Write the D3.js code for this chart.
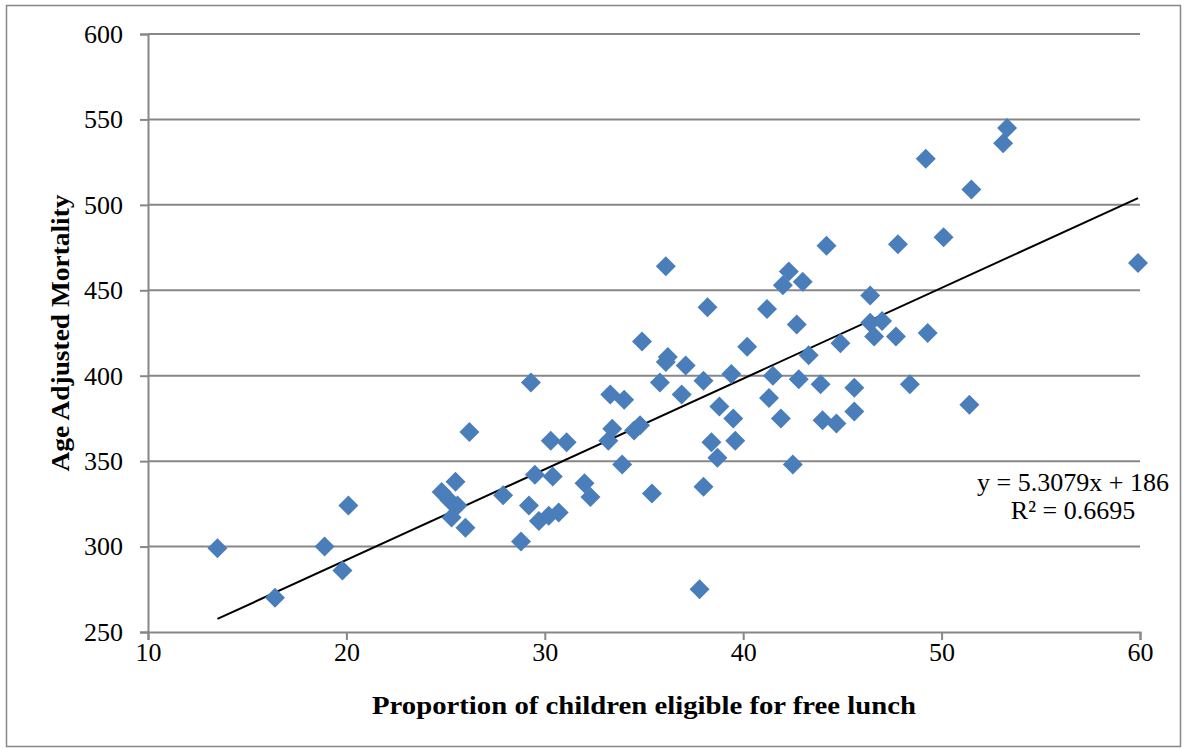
<!DOCTYPE html>
<html>
<head>
<meta charset="utf-8">
<script src="https://cdn.jsdelivr.net/npm/d3@7"></script>
<style>
  body { margin: 0; background: #fff; }
  text { font-family: "Liberation Serif", "Times New Roman", serif; fill: #000; }
</style>
</head>
<body>
<script>
  /***** Data *****/
  var lunchShare = [13.5, 16.4, 18.9, 19.8, 20.1, 24.8, 25.2, 25.5, 25.6, 25.3, 26.0, 26.2,
    27.9, 28.8, 29.2, 29.3, 29.5, 29.7, 30.2, 30.7, 30.4, 30.3, 31.1, 32.0, 32.3,
    33.3, 34.0, 33.4, 33.2, 33.9, 34.5, 34.8, 34.9, 35.4, 35.8, 36.1, 36.2, 36.1,
    37.1, 36.9, 38.0, 38.0, 38.2, 37.8, 38.4, 38.7, 38.8, 39.4, 39.5, 39.6, 40.2,
    41.2, 41.5, 41.3, 41.9, 42.0, 42.3, 43.0, 42.7, 42.5, 42.8, 43.3, 43.9, 44.0,
    44.2, 44.7, 44.9, 45.6, 45.6, 46.4, 46.4, 47.0, 46.6, 47.7, 47.8, 48.4, 49.2,
    49.3, 50.1, 51.4, 51.5, 53.1, 53.3, 59.9];
  var mortality = [299, 270, 300, 286, 324, 332, 327, 338, 324, 317, 311, 367,
    330, 303, 324, 396, 342, 315, 318, 320, 341, 362, 361, 337, 329,
    389, 386, 369, 362, 348, 368, 371, 420, 331, 396, 408, 411, 464,
    406, 389, 335, 397, 440, 275, 361, 352, 382, 401, 375, 362, 417,
    439, 400, 387, 375, 453, 461, 455, 430, 348, 398, 412, 395, 374,
    476, 372, 419, 393, 379, 447, 431, 432, 423, 423, 477, 395, 527,
    425, 481, 383, 509, 536, 545, 466];
  var xTicks = [10, 20, 30, 40, 50, 60];
  var yTicks = [250, 300, 350, 400, 450, 500, 550, 600];
  var slope = 5.3079, intercept = 186;
  var equationLines = ["y = 5.3079x + 186", "R\u00B2 = 0.6695"];

  /***** Configuration *****/
  var width = 1184, height = 749;
  var plot = { left: 148, right: 1140, top: 34, bottom: 632 };
  var gridColor = "#878787";
  var markColor = "#4a7ebb";

  var svg = d3.select("body").append("svg")
      .attr("width", width)
      .attr("height", height);

  svg.append("rect")
      .attr("x", 6.5).attr("y", 5.5)
      .attr("width", 1174).attr("height", 741)
      .attr("fill", "none")
      .attr("stroke", gridColor)
      .attr("stroke-width", 1.5);

  var xScale = d3.scaleLinear().domain([10, 60]).range([plot.left, plot.right]);
  var yScale = d3.scaleLinear().domain([250, 600]).range([plot.bottom, plot.top]);

  /***** Grid *****/
  svg.append("g").selectAll("line")
      .data(yTicks.filter(function (d) { return d > 250; }))
      .join("line")
      .attr("x1", plot.left).attr("x2", plot.right)
      .attr("y1", function (d) { return yScale(d); })
      .attr("y2", function (d) { return yScale(d); })
      .attr("stroke", gridColor)
      .attr("stroke-width", 2);

  /***** Axes *****/
  var yAxis = d3.axisLeft(yScale).tickValues(yTicks).tickSize(8).tickPadding(17);
  var xAxis = d3.axisBottom(xScale).tickValues(xTicks).tickSize(8).tickPadding(3);

  var yAxisGroup = svg.append("g")
      .attr("transform", "translate(" + plot.left + ",0)")
      .call(yAxis);
  var xAxisGroup = svg.append("g")
      .attr("transform", "translate(0," + plot.bottom + ")")
      .call(xAxis);

  [yAxisGroup, xAxisGroup].forEach(function (g) {
    g.select(".domain").attr("stroke", gridColor).attr("stroke-width", 2);
    g.selectAll(".tick line").attr("stroke", gridColor).attr("stroke-width", 2);
    g.selectAll(".tick text")
        .attr("font-family", "Liberation Serif, serif")
        .attr("font-size", 26)
        .attr("fill", "#000");
  });

  /***** Trend line *****/
  var xExtent = d3.extent(lunchShare);
  svg.append("line")
      .attr("x1", xScale(xExtent[0]))
      .attr("y1", yScale(slope * xExtent[0] + intercept))
      .attr("x2", xScale(xExtent[1]))
      .attr("y2", yScale(slope * xExtent[1] + intercept))
      .attr("stroke", "#000")
      .attr("stroke-width", 2);

  /***** Points *****/
  var diamond = d3.symbol().type(d3.symbolSquare).size(200);
  svg.append("g").selectAll("path")
      .data(d3.range(lunchShare.length))
      .join("path")
      .attr("d", diamond)
      .attr("transform", function (i) {
        return "translate(" + xScale(lunchShare[i]) + "," + yScale(mortality[i]) + ") rotate(45)";
      })
      .attr("fill", markColor);

  /***** Trend line equation *****/
  svg.append("g").selectAll("text")
      .data(equationLines)
      .join("text")
      .attr("x", 1073)
      .attr("y", function (d, i) { return 491 + i * 28; })
      .attr("text-anchor", "middle")
      .attr("font-size", 26)
      .text(function (d) { return d; });

  /***** Axis titles *****/
  svg.append("text")
      .attr("x", (plot.left + plot.right) / 2)
      .attr("y", 714)
      .attr("text-anchor", "middle")
      .attr("font-size", 25)
      .attr("font-weight", "bold")
      .attr("textLength", 544)
      .attr("lengthAdjust", "spacingAndGlyphs")
      .text("Proportion of children eligible for free lunch");

  svg.append("text")
      .attr("transform", "translate(69," + (plot.top + plot.bottom) / 2 + ") rotate(-90)")
      .attr("text-anchor", "middle")
      .attr("font-size", 25)
      .attr("font-weight", "bold")
      .attr("textLength", 277)
      .attr("lengthAdjust", "spacingAndGlyphs")
      .text("Age Adjusted Mortality");
</script>
</body>
</html>
